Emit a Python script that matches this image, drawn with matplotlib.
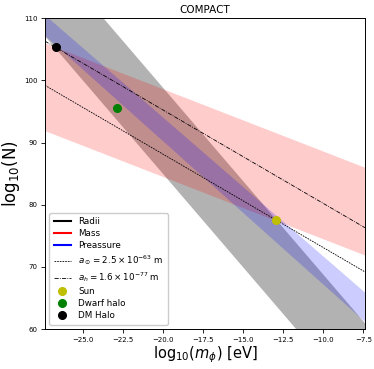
import matplotlib
matplotlib.use("Agg")
import matplotlib.pyplot as plt

# x-range (log10 m_phi [eV]) at which band/line edges were read
mphi = [-27.4, -7.4]

# band edges (log10 N) at the two ends of mphi
radii_low = [107.1, 47.1]
radii_high = [120.95, 60.95]
mass_low = [91.9, 71.9]
mass_high = [106.0, 86.0]
press_low = [107.2, 61.2]
press_high = [110.5, 65.9]

# constant scattering-length lines
a_sun_line = [99.2, 69.2]
a_halo_line = [106.3, 76.3]

# objects
sun = (-12.94, 77.5)
dwarf = (-22.9, 95.5)
dm_halo = (-26.7, 105.3)

xticks = [-25.0, -22.5, -20.0, -17.5, -15.0, -12.5, -10.0, -7.5]
yticks = [60, 70, 80, 90, 100, 110]

fig = plt.figure(figsize=(3.74, 3.69), dpi=100)
ax = fig.add_axes([0.12, 0.108, 0.856, 0.843])

ax.fill_between(mphi, radii_low, radii_high, color='k', alpha=0.3, lw=0)
ax.fill_between(mphi, mass_low, mass_high, color='r', alpha=0.2, lw=0)
ax.fill_between(mphi, press_low, press_high, color='b', alpha=0.2, lw=0)

ax.plot([], [], color='k', label='Radii')
ax.plot([], [], color='r', label='Mass')
ax.plot([], [], color='b', label='Preassure')

ax.plot(mphi, a_sun_line, color='k', ls=(0, (2, 1.2)), lw=0.6,
        label=r'$a_\odot = 2.5\times10^{-63}$ m')
ax.plot(mphi, a_halo_line, color='k', ls=(0, (5, 1.5, 1, 1.5)), lw=0.6,
        label=r'$a_h = 1.6\times10^{-77}$ m')

ax.plot([sun[0]], [sun[1]], 'o', color='y', ms=5.5, ls='none', label='Sun')
ax.plot([dwarf[0]], [dwarf[1]], 'o', color='g', ms=5.5, ls='none', label='Dwarf halo')
ax.plot([dm_halo[0]], [dm_halo[1]], 'o', color='k', ms=5.5, ls='none', label='DM Halo')

ax.set_xlim(-27.4, -7.4)
ax.set_ylim(60, 110)
ax.set_xticks(xticks)
ax.set_yticks(yticks)
ax.tick_params(labelsize=5, length=3, width=0.6, pad=2.5)
for s in ax.spines.values():
    s.set_linewidth(0.7)

ax.set_title('COMPACT', fontsize=7.5, pad=4)
ax.set_xlabel(r'log$_{10}$($m_\phi$) [eV]', fontsize=10.5, labelpad=1)
ax.set_ylabel(r'log$_{10}$(N)', fontsize=12, labelpad=1)

ax.legend(loc='lower left', fontsize=6.3, handlelength=2.0, labelspacing=0.35,
          borderpad=0.5, framealpha=1.0, edgecolor='#cccccc', fancybox=True)

fig.savefig('out.png', dpi=100)
